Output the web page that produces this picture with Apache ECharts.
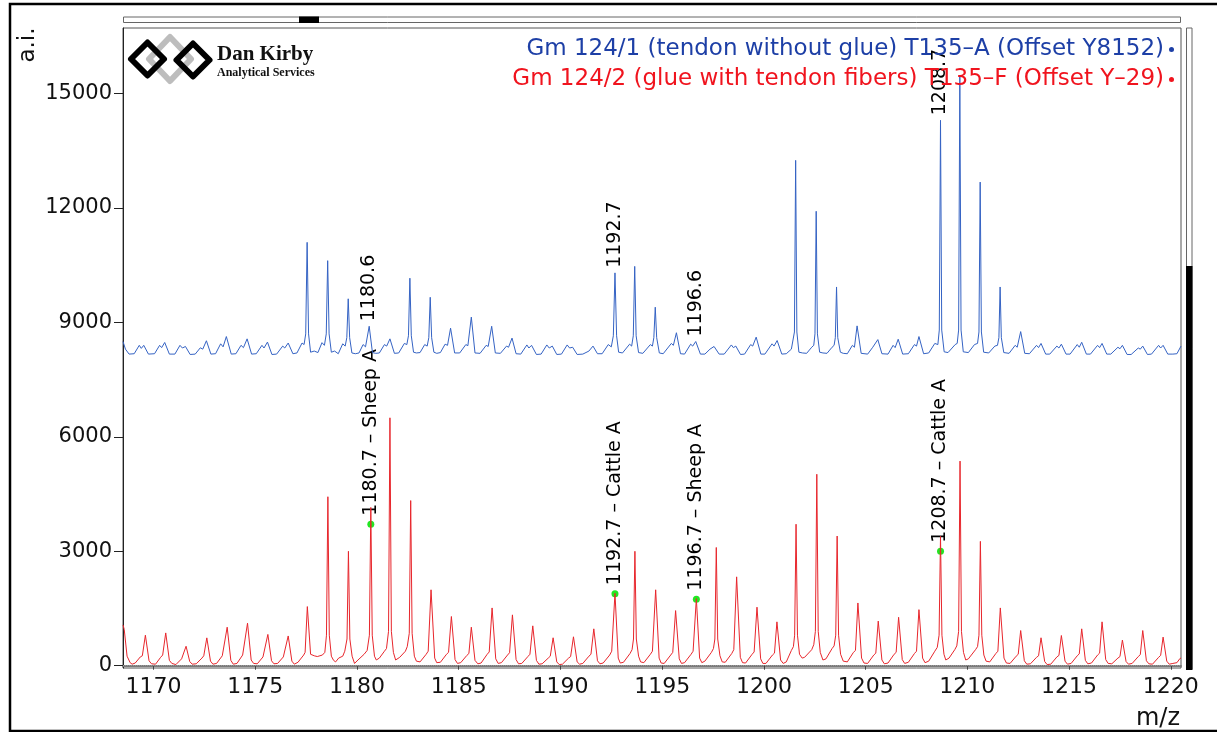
<!DOCTYPE html>
<html>
<head>
<meta charset="utf-8">
<title>Gm 124 spectra</title>
<script src="https://cdn.jsdelivr.net/npm/echarts@6/dist/echarts.min.js"></script>
<style>
  html, body { margin: 0; padding: 0; background: #fff; }
  #chart { width: 1217px; height: 732px; }
</style>
</head>
<body>
<div id="chart"></div>
<script>
const FONT = 'DejaVu Sans';

const blueName = 'Gm 124/1 (tendon without glue) T135–A (Offset Y8152)';
const redName = 'Gm 124/2 (glue with tendon fibers) T135–F (Offset Y–29)';

// blue trace, values as drawn (offset already in)
const blueTrace = [
  [1168.5, 8500], [1168.62, 8300], [1168.8, 8170], [1169.05, 8180], [1169.3, 8400], [1169.4, 8320], [1169.52, 8400], [1169.75, 8170],
  [1170.05, 8180], [1170.3, 8400], [1170.4, 8340], [1170.55, 8475], [1170.78, 8170],
  [1171.05, 8170], [1171.3, 8400], [1171.42, 8330], [1171.57, 8370], [1171.8, 8160],
  [1172.05, 8170], [1172.3, 8335], [1172.42, 8300], [1172.6, 8520], [1172.82, 8170],
  [1173.05, 8180], [1173.3, 8440], [1173.42, 8360], [1173.58, 8630], [1173.82, 8170],
  [1174.05, 8180], [1174.3, 8400], [1174.42, 8340], [1174.6, 8570], [1174.82, 8170],
  [1175.05, 8180], [1175.33, 8400], [1175.43, 8330], [1175.6, 8485], [1175.82, 8160],
  [1176.05, 8170], [1176.35, 8380], [1176.45, 8330], [1176.62, 8460], [1176.85, 8180],
  [1177.05, 8200], [1177.3, 8460], [1177.4, 8420], [1177.48, 8700], [1177.55, 11100], [1177.62, 8700], [1177.72, 8220], [1177.9, 8250],
  [1178.08, 8210], [1178.28, 8470], [1178.4, 8400], [1178.49, 8700], [1178.56, 10620], [1178.63, 8700], [1178.74, 8220], [1178.9, 8250],
  [1179.08, 8180], [1179.3, 8440], [1179.42, 8380], [1179.5, 8600], [1179.57, 9620], [1179.64, 8600], [1179.75, 8200], [1179.92, 8180],
  [1180.1, 8200], [1180.3, 8420], [1180.42, 8360], [1180.6, 8900], [1180.76, 8210], [1180.92, 8190],
  [1181.1, 8200], [1181.35, 8420], [1181.46, 8380], [1181.62, 8570], [1181.84, 8190],
  [1182.05, 8200], [1182.33, 8450], [1182.45, 8420], [1182.53, 8650], [1182.6, 10160], [1182.67, 8650], [1182.78, 8220], [1182.92, 8200],
  [1183.1, 8210], [1183.33, 8420], [1183.45, 8380], [1183.53, 8600], [1183.6, 9660], [1183.67, 8600], [1183.78, 8220], [1183.92, 8190],
  [1184.1, 8210], [1184.33, 8430], [1184.45, 8400], [1184.6, 8850], [1184.8, 8200],
  [1185.05, 8200], [1185.35, 8420], [1185.45, 8390], [1185.62, 9140], [1185.8, 8200],
  [1186.05, 8190], [1186.35, 8400], [1186.45, 8370], [1186.62, 8900], [1186.8, 8200],
  [1187.05, 8190], [1187.35, 8380], [1187.45, 8350], [1187.62, 8590], [1187.82, 8180],
  [1188.05, 8170], [1188.35, 8410], [1188.45, 8330], [1188.58, 8400], [1188.82, 8160],
  [1189.05, 8170], [1189.33, 8410], [1189.45, 8330], [1189.6, 8380], [1189.82, 8160],
  [1190.05, 8170], [1190.33, 8410], [1190.45, 8330], [1190.6, 8350], [1190.82, 8160],
  [1191.1, 8170], [1191.4, 8250], [1191.6, 8380], [1191.82, 8180],
  [1192.05, 8180], [1192.35, 8420], [1192.5, 8360], [1192.6, 8650], [1192.68, 10300], [1192.76, 8650], [1192.86, 8220],
  [1193.05, 8200], [1193.4, 8430], [1193.5, 8380], [1193.58, 8650], [1193.65, 10470], [1193.72, 8650], [1193.84, 8210],
  [1194.05, 8190], [1194.42, 8420], [1194.52, 8380], [1194.59, 8600], [1194.66, 9400], [1194.73, 8600], [1194.86, 8200],
  [1195.05, 8180], [1195.45, 8450], [1195.55, 8400], [1195.7, 8730], [1195.9, 8180],
  [1196.1, 8170], [1196.4, 8430], [1196.5, 8380], [1196.65, 8500], [1196.88, 8170],
  [1197.1, 8170], [1197.35, 8300], [1197.55, 8370], [1197.8, 8170],
  [1198.05, 8170], [1198.4, 8410], [1198.5, 8340], [1198.62, 8380], [1198.85, 8160],
  [1199.05, 8170], [1199.35, 8420], [1199.45, 8380], [1199.62, 8615], [1199.85, 8170],
  [1200.05, 8170], [1200.4, 8440], [1200.5, 8380], [1200.65, 8526], [1200.88, 8170],
  [1201.1, 8180], [1201.35, 8300], [1201.44, 8350], [1201.5, 8750], [1201.56, 13250], [1201.62, 8750], [1201.72, 8220], [1201.9, 8200],
  [1202.1, 8190], [1202.35, 8350], [1202.45, 8400], [1202.51, 8700], [1202.57, 11915], [1202.63, 8700], [1202.74, 8220], [1202.9, 8200],
  [1203.1, 8190], [1203.35, 8350], [1203.45, 8400], [1203.51, 8600], [1203.57, 9930], [1203.63, 8600], [1203.76, 8220], [1203.9, 8190],
  [1204.1, 8180], [1204.35, 8400], [1204.45, 8350], [1204.58, 8910], [1204.78, 8190],
  [1205.1, 8170], [1205.35, 8350], [1205.6, 8550], [1205.8, 8180],
  [1206.1, 8170], [1206.35, 8400], [1206.45, 8340], [1206.6, 8560], [1206.82, 8170],
  [1207.1, 8180], [1207.4, 8420], [1207.5, 8380], [1207.62, 8630], [1207.85, 8180],
  [1208.1, 8200], [1208.4, 8450], [1208.55, 8420], [1208.62, 8800], [1208.68, 14300], [1208.74, 8800], [1208.86, 8230],
  [1209.05, 8210], [1209.4, 8420], [1209.5, 8450], [1209.57, 8800], [1209.63, 15450], [1209.69, 8800], [1209.8, 8230],
  [1210.05, 8210], [1210.35, 8420], [1210.5, 8450], [1210.57, 8750], [1210.63, 12680], [1210.69, 8750], [1210.8, 8220],
  [1211.05, 8200], [1211.35, 8380], [1211.48, 8400], [1211.55, 8600], [1211.61, 9930], [1211.67, 8600], [1211.79, 8210],
  [1212.05, 8190], [1212.35, 8400], [1212.45, 8350], [1212.62, 8760], [1212.82, 8190],
  [1213.05, 8180], [1213.4, 8400], [1213.5, 8340], [1213.62, 8450], [1213.85, 8170],
  [1214.05, 8170], [1214.4, 8380], [1214.5, 8330], [1214.62, 8430], [1214.85, 8170],
  [1215.05, 8170], [1215.4, 8420], [1215.5, 8350], [1215.62, 8480], [1215.85, 8170],
  [1216.05, 8170], [1216.4, 8400], [1216.5, 8340], [1216.62, 8450], [1216.85, 8170],
  [1217.05, 8170], [1217.4, 8350], [1217.5, 8310], [1217.62, 8400], [1217.85, 8160],
  [1218.05, 8160], [1218.4, 8330], [1218.5, 8300], [1218.62, 8380], [1218.85, 8160],
  [1219.05, 8170], [1219.4, 8400], [1219.5, 8330], [1219.62, 8400], [1219.85, 8170],
  [1220.1, 8170], [1220.3, 8180], [1220.5, 8380]
];

const redTrace = [
  [1168.5, 1070], [1168.56, 950], [1168.7, 250], [1168.85, 80], [1168.95, 40],
  [1169.1, 70], [1169.35, 230], [1169.45, 260], [1169.6, 800], [1169.78, 130], [1169.9, 50],
  [1170.1, 40], [1170.35, 220], [1170.45, 280], [1170.6, 860], [1170.78, 140], [1170.9, 60],
  [1171.1, 30], [1171.38, 180], [1171.45, 200], [1171.6, 510], [1171.78, 110], [1171.9, 40],
  [1172.1, 50], [1172.38, 200], [1172.47, 260], [1172.62, 730], [1172.8, 120], [1172.92, 40],
  [1173.1, 60], [1173.38, 260], [1173.47, 300], [1173.62, 1010], [1173.8, 140], [1173.92, 40],
  [1174.1, 60], [1174.38, 280], [1174.47, 320], [1174.62, 1115], [1174.8, 150], [1174.92, 60],
  [1175.1, 50], [1175.38, 230], [1175.47, 280], [1175.62, 820], [1175.8, 130], [1175.92, 50],
  [1176.1, 60], [1176.38, 230], [1176.47, 260], [1176.62, 780], [1176.8, 120], [1176.92, 40],
  [1177.1, 90], [1177.38, 280], [1177.45, 350], [1177.56, 1550], [1177.72, 300], [1177.9, 260],
  [1178.05, 240], [1178.3, 280], [1178.42, 350], [1178.5, 800], [1178.57, 4430], [1178.64, 800], [1178.74, 250], [1178.85, 140], [1178.95, 100],
  [1179.1, 200], [1179.3, 250], [1179.4, 380], [1179.51, 700], [1179.58, 3000], [1179.65, 700], [1179.76, 250], [1179.88, 60],
  [1180.05, 150], [1180.35, 300], [1180.5, 400], [1180.61, 800], [1180.68, 4150], [1180.75, 800], [1180.86, 250], [1180.95, 150],
  [1181.1, 200], [1181.35, 380], [1181.45, 450], [1181.55, 900], [1181.62, 6500], [1181.69, 900], [1181.79, 350], [1181.9, 150],
  [1182.1, 220], [1182.38, 380], [1182.47, 500], [1182.57, 850], [1182.64, 4330], [1182.71, 850], [1182.82, 250], [1182.92, 120],
  [1183.1, 100], [1183.4, 300], [1183.5, 380], [1183.64, 1990], [1183.82, 200], [1183.92, 80],
  [1184.1, 90], [1184.4, 300], [1184.5, 350], [1184.64, 1290], [1184.82, 160], [1184.94, 60],
  [1185.1, 80], [1185.4, 270], [1185.5, 320], [1185.62, 1010], [1185.8, 140], [1185.94, 50],
  [1186.1, 70], [1186.4, 300], [1186.5, 360], [1186.64, 1515], [1186.82, 180], [1186.94, 60],
  [1187.1, 80], [1187.4, 280], [1187.5, 340], [1187.64, 1333], [1187.82, 160], [1187.94, 50],
  [1188.1, 60], [1188.4, 240], [1188.5, 300], [1188.64, 1045], [1188.82, 140], [1188.94, 40],
  [1189.1, 50], [1189.4, 200], [1189.5, 250], [1189.64, 732], [1189.82, 100], [1189.94, 30],
  [1190.1, 40], [1190.4, 200], [1190.5, 240], [1190.64, 758], [1190.82, 100], [1190.94, 40],
  [1191.1, 60], [1191.4, 250], [1191.5, 300], [1191.64, 967], [1191.82, 130], [1191.94, 50],
  [1192.1, 70], [1192.42, 280], [1192.52, 380], [1192.68, 1900], [1192.84, 200], [1192.94, 70],
  [1193.1, 90], [1193.42, 320], [1193.52, 420], [1193.59, 700], [1193.66, 3000], [1193.73, 700], [1193.84, 250], [1193.94, 100],
  [1194.1, 80], [1194.42, 300], [1194.52, 380], [1194.68, 1990], [1194.85, 200], [1194.95, 70],
  [1195.1, 60], [1195.42, 280], [1195.52, 350], [1195.66, 1445], [1195.84, 180], [1195.95, 60],
  [1196.1, 80], [1196.42, 300], [1196.52, 380], [1196.68, 1760], [1196.84, 200], [1196.95, 80],
  [1197.1, 120], [1197.42, 350], [1197.52, 450], [1197.59, 700], [1197.66, 3100], [1197.73, 700], [1197.84, 260], [1197.95, 100],
  [1198.1, 90], [1198.42, 320], [1198.52, 420], [1198.66, 2330], [1198.84, 220], [1198.95, 80],
  [1199.1, 70], [1199.42, 300], [1199.52, 360], [1199.66, 1535], [1199.84, 180], [1199.95, 60],
  [1200.1, 60], [1200.42, 280], [1200.52, 330], [1200.64, 1150], [1200.82, 150], [1200.95, 60],
  [1201.1, 100], [1201.35, 400], [1201.45, 500], [1201.51, 800], [1201.58, 3710], [1201.65, 800], [1201.75, 300], [1201.88, 200],
  [1202.0, 220], [1202.35, 420], [1202.45, 550], [1202.53, 900], [1202.6, 5020], [1202.67, 900], [1202.77, 350], [1202.9, 150],
  [1203.05, 180], [1203.35, 450], [1203.45, 520], [1203.53, 800], [1203.6, 3400], [1203.67, 800], [1203.77, 300], [1203.9, 120],
  [1204.1, 100], [1204.4, 350], [1204.5, 400], [1204.62, 1645], [1204.8, 200], [1204.92, 70],
  [1205.1, 60], [1205.4, 280], [1205.5, 330], [1205.62, 1170], [1205.8, 150], [1205.92, 50],
  [1206.1, 70], [1206.4, 300], [1206.5, 350], [1206.62, 1270], [1206.8, 160], [1206.92, 60],
  [1207.1, 90], [1207.4, 320], [1207.5, 380], [1207.62, 1470], [1207.8, 200], [1207.92, 80],
  [1208.1, 120], [1208.4, 380], [1208.52, 480], [1208.61, 800], [1208.68, 3390], [1208.75, 800], [1208.85, 300], [1208.94, 150],
  [1209.1, 200], [1209.38, 420], [1209.48, 520], [1209.57, 900], [1209.64, 5365], [1209.71, 900], [1209.81, 350], [1209.92, 150],
  [1210.05, 180], [1210.4, 420], [1210.5, 500], [1210.57, 800], [1210.64, 3260], [1210.71, 800], [1210.81, 280], [1210.92, 120],
  [1211.1, 100], [1211.4, 320], [1211.5, 380], [1211.62, 1515], [1211.8, 200], [1211.92, 70],
  [1212.1, 60], [1212.4, 250], [1212.5, 300], [1212.62, 922], [1212.8, 130], [1212.92, 40],
  [1213.1, 50], [1213.4, 220], [1213.5, 260], [1213.62, 732], [1213.8, 110], [1213.92, 30],
  [1214.1, 40], [1214.4, 230], [1214.5, 270], [1214.62, 792], [1214.8, 120], [1214.92, 40],
  [1215.1, 60], [1215.4, 260], [1215.5, 310], [1215.62, 967], [1215.8, 140], [1215.92, 50],
  [1216.1, 70], [1216.4, 280], [1216.5, 330], [1216.62, 1150], [1216.8, 160], [1216.92, 60],
  [1217.1, 50], [1217.4, 200], [1217.5, 240], [1217.62, 672], [1217.8, 110], [1217.92, 40],
  [1218.1, 60], [1218.4, 240], [1218.5, 290], [1218.62, 922], [1218.8, 130], [1218.92, 50],
  [1219.1, 40], [1219.4, 220], [1219.5, 270], [1219.62, 750], [1219.8, 120], [1219.92, 40],
  [1220.1, 60], [1220.3, 80], [1220.45, 190], [1220.5, 200]
];

// peak annotations
const blueMarkMz = [1180.6, 1192.68, 1196.65, 1208.68];
const blueMarkAi = [8900, 10300, 8500, 14300];
const blueMarkText = ['1180.6', '1192.7', '1196.6', '1208.7'];

const redMarkMz = [1180.68, 1192.68, 1196.68, 1208.68];
const redMarkAi = [3710, 1890, 1745, 3000];
const redMarkText = ['1180.7 – Sheep A', '1192.7 – Cattle A', '1196.7 – Sheep A', '1208.7 – Cattle A'];

function marks(mz, ai, text) {
  return mz.map((m, i) => ({ value: [m, ai[i]], name: text[i] }));
}

const chart = echarts.init(document.getElementById('chart'));

const peakLabel = {
  show: true,
  position: 'top',
  distance: 5,
  rotate: 90,
  align: 'left',
  verticalAlign: 'middle',
  formatter: '{b}',
  fontFamily: FONT,
  fontSize: 19,
  color: '#000',
  opacity: 1
};

const option = {
  animation: false,
  backgroundColor: '#fff',
  grid: {
    left: 123, top: 28, width: 1058, height: 640,
    show: true, borderColor: '#555', borderWidth: 1
  },
  legend: {
    data: [
      { name: blueName, textStyle: { color: '#1d3fa6' } },
      { name: redName, textStyle: { color: '#f0141e' } }
    ],
    orient: 'vertical',
    right: 38,
    top: 33,
    align: 'right',
    icon: 'circle',
    itemWidth: 5,
    itemHeight: 5,
    itemGap: 7,
    selectedMode: false,
    textStyle: { fontFamily: FONT, fontSize: 23 }
  },
  xAxis: {
    type: 'value',
    min: 1168.5,
    max: 1220.5,
    splitNumber: 10,
    axisLine: { lineStyle: { color: '#7a7a7a', width: 2 } },
    axisTick: { length: 4, lineStyle: { color: '#444' } },
    axisLabel: {
      fontFamily: FONT, fontSize: 22, color: '#111', margin: 8,
      showMinLabel: false, showMaxLabel: false,
      formatter: v => String(v)
    },
    splitLine: { show: false }
  },
  yAxis: {
    type: 'value',
    min: -60,
    max: 16720,
    splitNumber: 5,
    axisLine: { show: true, lineStyle: { color: '#222', width: 1 } },
    axisTick: { show: true, length: 9, lineStyle: { color: '#222' } },
    axisLabel: {
      fontFamily: FONT, fontSize: 21, color: '#111', margin: 11,
      showMinLabel: false, showMaxLabel: false,
      formatter: v => String(v)
    },
    splitLine: { show: false }
  },
  series: [
    {
      name: blueName,
      type: 'line',
      data: blueTrace,
      showSymbol: false,
      color: '#1d3fa6',
      lineStyle: { color: '#3563c4', width: 1 }
    },
    {
      name: redName,
      type: 'line',
      data: redTrace,
      showSymbol: false,
      color: '#f0141e',
      lineStyle: { color: '#e8262c', width: 1 },
      markLine: {
        silent: true,
        symbol: 'none',
        label: { show: false },
        lineStyle: { color: '#999', type: 'dotted', width: 1 },
        data: [{ yAxis: 0 }]
      }
    },
    {
      type: 'scatter',
      data: marks(blueMarkMz, blueMarkAi, blueMarkText),
      symbolSize: 0,
      label: peakLabel
    },
    {
      type: 'scatter',
      data: marks(redMarkMz, redMarkAi, redMarkText),
      symbolSize: 7,
      itemStyle: { color: '#22e622', opacity: 1 },
      label: peakLabel
    }
  ],
  graphic: [
    // outer frame
    { type: 'rect', shape: { x: 10, y: 4, width: 1230, height: 727 },
      style: { fill: 'none', stroke: '#000', lineWidth: 2.5 }, silent: true },
    // top scroll bar
    { type: 'rect', shape: { x: 123.5, y: 17, width: 1057, height: 5.5 },
      style: { fill: '#fff', stroke: '#666', lineWidth: 1 }, silent: true },
    { type: 'rect', shape: { x: 299, y: 16.5, width: 20, height: 6.5 },
      style: { fill: '#000' }, silent: true },
    // right scroll bar
    { type: 'rect', shape: { x: 1186.5, y: 28, width: 5.5, height: 641 },
      style: { fill: '#fff', stroke: '#666', lineWidth: 1 }, silent: true },
    { type: 'rect', shape: { x: 1186, y: 266, width: 6.5, height: 404 },
      style: { fill: '#000' }, silent: true },
    // logo
    { type: 'polygon', shape: { points: [[170, 37], [191, 59], [170, 81], [149, 59]] },
      style: { fill: 'none', stroke: '#bdbdbd', lineWidth: 6, lineJoin: 'round' }, silent: true },
    { type: 'polygon', shape: { points: [[147.5, 42.5], [164, 59], [147.5, 75.5], [131, 59]] },
      style: { fill: 'none', stroke: '#000', lineWidth: 6, lineJoin: 'round' }, silent: true },
    { type: 'polygon', shape: { points: [[193, 43.5], [209.5, 60], [193, 76.5], [176.5, 60]] },
      style: { fill: 'none', stroke: '#000', lineWidth: 6, lineJoin: 'round' }, silent: true },
    { type: 'text', x: 217, y: 55, silent: true,
      style: { text: 'Dan Kirby', font: 'bold 21px "Liberation Serif"', fill: '#111',
        textAlign: 'left', textVerticalAlign: 'middle' } },
    { type: 'text', x: 217, y: 73, silent: true,
      style: { text: 'Analytical Services', font: 'bold 12px "Liberation Serif"', fill: '#111',
        textAlign: 'left', textVerticalAlign: 'middle' } },
    // axis names
    { type: 'text', x: 28, y: 45, rotation: Math.PI / 2, silent: true,
      style: { text: 'a.i.', font: '23px "DejaVu Sans"', fill: '#111',
        textAlign: 'center', textVerticalAlign: 'middle' } },
    { type: 'text', x: 1180, y: 719, silent: true,
      style: { text: 'm/z', font: '24px "DejaVu Sans"', fill: '#111',
        textAlign: 'right', textVerticalAlign: 'middle' } }
  ]
};

chart.setOption(option);
</script>
</body>
</html>
